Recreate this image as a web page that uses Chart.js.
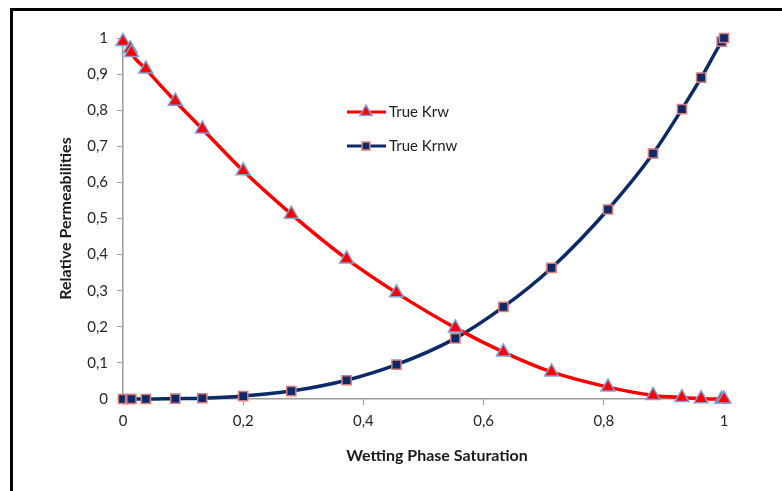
<!DOCTYPE html>
<html>
<head>
<meta charset="utf-8">
<script src="https://cdn.jsdelivr.net/npm/chart.js@4.4.0/dist/chart.umd.min.js"></script>
<style>
  body { margin: 0; background: #fff; }
  #wrap { position: relative; width: 782px; height: 491px; overflow: hidden; }
  #frame { position: absolute; left: 10px; top: 8px; width: 900px; height: 600px;
           border-top: 3px solid #000; border-left: 3px solid #000; }
  canvas { position: absolute; left: 0; top: 0; }
</style>
</head>
<body>
<div id="wrap">
  <div id="frame"></div>
  <canvas id="chart" width="782" height="491"></canvas>
</div>
<script>
// данные
const saturation = [0, 0.012, 0.014, 0.038, 0.087, 0.132, 0.2, 0.28, 0.372, 0.455, 0.553, 0.633, 0.713, 0.807, 0.882, 0.93, 0.962, 0.996, 1];
const krwValues  = [0.99, 0.97, 0.96, 0.914, 0.825, 0.748, 0.632, 0.512, 0.388, 0.294, 0.197, 0.13, 0.075, 0.033, 0.01, 0.004, 0.001, 0, 0];
const krnwValues = [0, 0, 0, 0, 0.001, 0.002, 0.008, 0.022, 0.052, 0.095, 0.168, 0.255, 0.363, 0.525, 0.68, 0.803, 0.89, 0.99, 1];
const seriesNames = ["True Krw", "True Krnw"];
const xTitle = 'Wetting Phase Saturation';
const yTitle = 'Relative Permeabilities';

const FONT = "Lato, 'Open Sans', sans-serif";
const axisGray = '#9c9c9c';

function toPoints(ys) {
    return saturation.map((x, i) => ({ x: x, y: ys[i] }));
}

function commaLabel(v) {
    return String(Math.round(v * 10) / 10).replace('.', ',');
}

// легенда внутри области графика + подпись оси X (в оригинале чуть правее центра)
const innerLegend = {
    id: 'innerLegend',
    afterDraw(chart) {
        const ctx = chart.ctx;
        const rows = [112, 146];
        chart.data.datasets.forEach((ds, i) => {
            const y = rows[i];
            ctx.save();
            ctx.strokeStyle = ds.borderColor;
            ctx.lineWidth = 3;
            ctx.beginPath();
            ctx.moveTo(347, y);
            ctx.lineTo(386, y);
            ctx.stroke();
            ctx.fillStyle = ds.pointBackgroundColor;
            ctx.strokeStyle = ds.pointBorderColor;
            ctx.lineWidth = ds.pointBorderWidth;
            Chart.helpers.drawPoint(ctx, { pointStyle: ds.pointStyle, radius: ds.pointRadius - 1, rotation: 0, borderWidth: ds.pointBorderWidth }, 366, y);
            ctx.fillStyle = '#1a1a1a';
            ctx.font = '15px ' + FONT;
            ctx.textBaseline = 'middle';
            ctx.fillText(ds.label, 389, y);
            ctx.restore();
        });

        ctx.save();
        ctx.fillStyle = '#1a1a1a';
        ctx.font = 'bold 16px ' + FONT;
        ctx.textAlign = 'center';
        ctx.textBaseline = 'middle';
        ctx.fillText(xTitle, 437, 456);
        ctx.restore();
    }
};

const ctx = document.getElementById('chart').getContext('2d');

const myChart = new Chart(ctx, {
    type: 'line',
    data: {
        datasets: [{
            label: seriesNames[0],
            data: toPoints(krwValues),
            borderColor: '#ff0000',
            borderWidth: 3.5,
            pointStyle: 'triangle',
            pointRadius: 8,
            pointBackgroundColor: '#ff0000',
            pointBorderColor: '#7f9fd6',
            pointBorderWidth: 1.5,
            cubicInterpolationMode: 'monotone',
            clip: false
        }, {
            label: seriesNames[1],
            data: toPoints(krnwValues),
            borderColor: '#0d2a68',
            borderWidth: 3.5,
            pointStyle: 'rect',
            pointRadius: 6.5,
            pointBackgroundColor: '#0d2a68',
            pointBorderColor: '#dc7c7c',
            pointBorderWidth: 1.5,
            cubicInterpolationMode: 'monotone',
            clip: false
        }]
    },
    options: {
        responsive: false,
        animation: false,
        layout: { padding: { left: 52, right: 58, top: 38, bottom: 22 } },
        plugins: {
            legend: { display: false },
            tooltip: { enabled: false }
        },
        scales: {
            x: {
                type: 'linear',
                min: 0,
                max: 1,
                afterFit: s => { s.height = 70; },
                ticks: {
                    stepSize: 0.2,
                    padding: 7,
                    color: '#262626',
                    font: { family: FONT, size: 15 },
                    callback: v => commaLabel(v)
                },
                grid: { drawOnChartArea: false, tickLength: 6, color: axisGray },
                border: { color: axisGray, width: 1.5 },
                title: { display: false }
            },
            y: {
                min: 0,
                max: 1,
                afterFit: s => { s.width = 71; },
                ticks: {
                    stepSize: 0.1,
                    padding: 9,
                    color: '#262626',
                    font: { family: FONT, size: 15 },
                    callback: v => commaLabel(v)
                },
                grid: { drawOnChartArea: false, tickLength: 6, color: axisGray },
                border: { color: axisGray, width: 1.5 },
                title: {
                    display: true,
                    text: yTitle,
                    color: '#1a1a1a',
                    font: { family: FONT, size: 16, weight: 'bold' },
                    padding: { top: 4, bottom: 4 }
                }
            }
        }
    },
    plugins: [innerLegend]
});
</script>
</body>
</html>
